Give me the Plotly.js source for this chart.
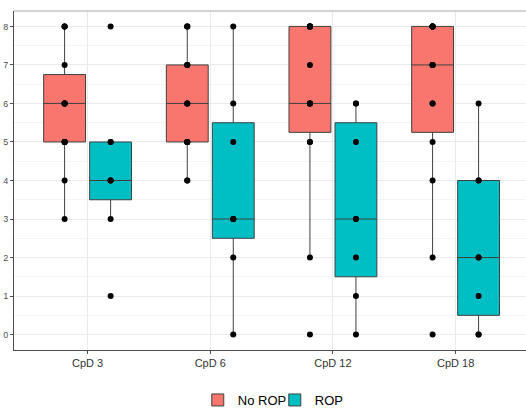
<!DOCTYPE html>
<html>
<head>
<meta charset="utf-8">
<script src="https://cdn.plot.ly/plotly-3.0.1.min.js"></script>
<style>
html,body{margin:0;padding:0;background:#fff;overflow:hidden;}
#chart{width:526px;height:409px;}
</style>
</head>
<body>
<div id="chart"></div>
<script>
// Categories (time points)
const categories = ['CpD 3', 'CpD 6', 'CpD 12', 'CpD 18'];
const groupNames = ['No ROP', 'ROP'];

const noRop_CpD3  = [3, 4, 5, 5, 5, 5, 6, 6, 6, 6, 6, 7, 8, 8, 8];
const noRop_CpD6  = [4, 4, 5, 5, 5, 5, 6, 6, 6, 7, 7, 7, 8, 8, 8];
const noRop_CpD12 = [0, 2, 5, 5, 6, 6, 6, 6, 7, 8, 8, 8, 8, 8, 8];
const noRop_CpD18 = [0, 2, 4, 5, 6, 6, 7, 7, 7, 8, 8, 8, 8, 8, 8];

const rop_CpD3  = [1, 3, 4, 4, 4, 5, 5, 8];
const rop_CpD6  = [0, 2, 3, 3, 3, 5, 6, 8];
const rop_CpD12 = [0, 1, 2, 3, 3, 5, 6, 6];
const rop_CpD18 = [0, 0, 1, 2, 2, 4, 4, 6];

const yTicks = [0, 1, 2, 3, 4, 5, 6, 7, 8];

const noRopSets = [noRop_CpD3, noRop_CpD6, noRop_CpD12, noRop_CpD18];
const ropSets = [rop_CpD3, rop_CpD6, rop_CpD12, rop_CpD18];

function flatten(sets) {
  const x = [], y = [];
  sets.forEach((vals, i) => vals.forEach(v => { x.push(categories[i]); y.push(v); }));
  return {x, y};
}

const a = flatten(noRopSets);
const b = flatten(ropSets);

const common = {
  type: 'box',
  boxpoints: 'all',
  jitter: 0,
  pointpos: 0,
  whiskerwidth: 0,
  quartilemethod: 'linear',
  marker: {color: '#000000', size: 6},
  line: {color: '#404040', width: 1},
  hoverinfo: 'y'
};

const traces = [
  Object.assign({}, common, {name: groupNames[0], x: a.x, y: a.y, fillcolor: '#F8766D'}),
  Object.assign({}, common, {name: groupNames[1], x: b.x, y: b.y, fillcolor: '#00BFC4'})
];

const layout = {
  width: 526,
  height: 409,
  margin: {l: 14, r: 0, t: 11, b: 59},
  paper_bgcolor: '#ffffff',
  plot_bgcolor: '#ffffff',
  boxmode: 'group',
  boxgap: 0.25,
  boxgroupgap: 0.09,
  font: {family: 'Liberation Sans, Arial, sans-serif', color: '#333333'},
  showlegend: true,
  legend: {
    orientation: 'h',
    xref: 'container', yref: 'container',
    x: 0.376, xanchor: 'left',
    y: 0.022, yanchor: 'middle',
    font: {size: 13, color: '#000000'},
    itemwidth: 30,
    entrywidth: 32,
    entrywidthmode: 'pixels',
    tracegroupgap: 0
  },
  xaxis: {
    type: 'category',
    categoryorder: 'array',
    categoryarray: categories,
    range: [-0.6, 3.574],
    showline: true,
    linecolor: '#4D4D4D',
    linewidth: 1,
    showgrid: true,
    gridcolor: '#EBEBEB',
    gridwidth: 1,
    ticks: 'outside',
    ticklen: 3,
    tickcolor: '#4D4D4D',
    tickfont: {size: 11, color: '#333333'},
    zeroline: false,
    automargin: false
  },
  yaxis: {
    range: [-0.4, 8.4],
    tickvals: yTicks,
    ticktext: yTicks.map(String),
    showline: true,
    linecolor: '#4D4D4D',
    linewidth: 1,
    showgrid: true,
    gridcolor: '#EBEBEB',
    gridwidth: 1,
    minor: {dtick: 0.5, tick0: 0.5, showgrid: true, gridcolor: '#F5F5F5', gridwidth: 1, ticks: ''},
    ticks: 'outside',
    ticklen: 3,
    tickcolor: '#4D4D4D',
    tickfont: {size: 9, color: '#4D4D4D'},
    zeroline: false,
    automargin: false
  },
  shapes: [
    {type: 'line', xref: 'paper', yref: 'paper', x0: 0, x1: 1, y0: 1, y1: 1,
     line: {color: '#A6A6A6', width: 1}}
  ]
};

Plotly.newPlot('chart', traces, layout, {staticPlot: true, displayModeBar: false});
</script>
</body>
</html>
